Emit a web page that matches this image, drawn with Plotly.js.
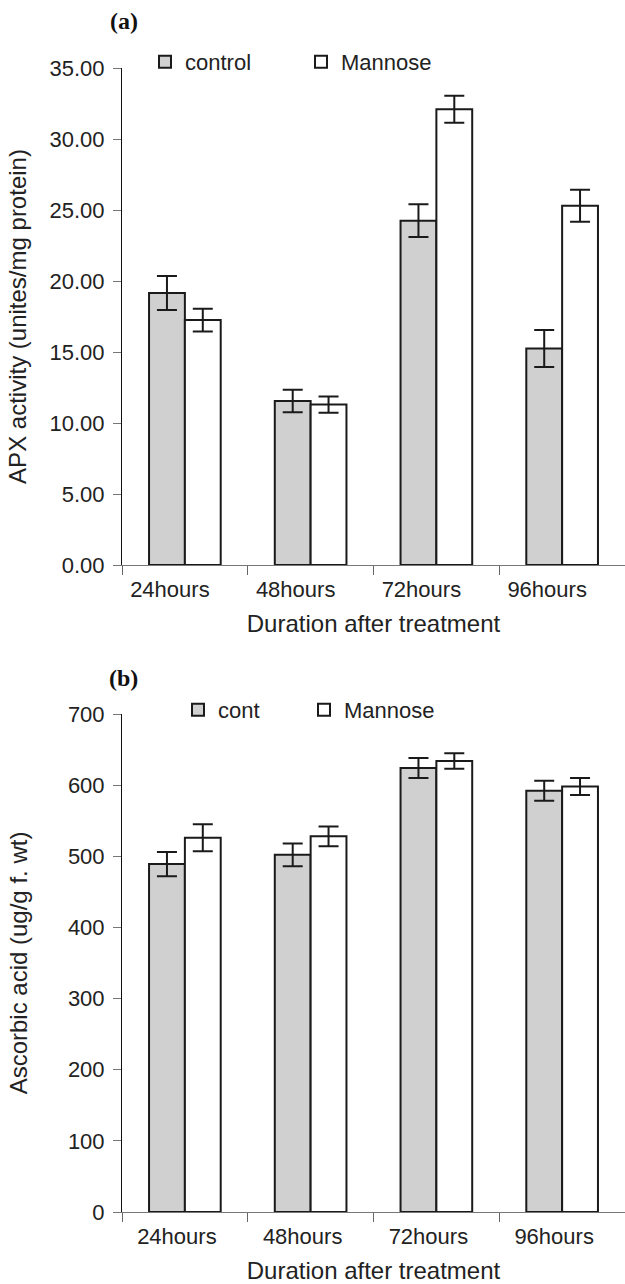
<!DOCTYPE html>
<html>
<head>
<meta charset="utf-8">
<script src="https://cdn.plot.ly/plotly-3.0.1.min.js"></script>
<style>html,body{margin:0;padding:0;background:#fff;}#chart{width:625px;height:1284px;}</style>
</head>
<body>
<div id="chart"></div>
<script>
// Categories
var categories = ["24hours", "48hours", "72hours", "96hours"];

// Panel (a): APX activity
var apxControl = [19.15, 11.55, 24.25, 15.25];
var apxControlErr = [1.2, 0.8, 1.15, 1.3];
var apxMannose = [17.25, 11.3, 32.1, 25.3];
var apxMannoseErr = [0.8, 0.57, 0.95, 1.12];

// Panel (b): Ascorbic acid
var ascControl = [489, 502, 624, 592];
var ascControlErr = [17, 16, 14, 14];
var ascMannose = [526, 528, 634, 598];
var ascMannoseErr = [19, 14, 11, 12];

var outline = {color: "#1a1a1a", width: 2};
var errStyle = function (arr) {
  return {type: "data", array: arr, visible: true, color: "#1a1a1a", thickness: 2, width: 10};
};

var traces = [
  {type: "bar", x: categories, y: apxControl, name: "control", xaxis: "x", yaxis: "y", legend: "legend",
   marker: {color: "#d0d0d0", line: outline}, error_y: errStyle(apxControlErr)},
  {type: "bar", x: categories, y: apxMannose, name: "Mannose", xaxis: "x", yaxis: "y", legend: "legend2",
   marker: {color: "#ffffff", line: outline}, error_y: errStyle(apxMannoseErr)},
  {type: "bar", x: categories, y: ascControl, name: "cont", xaxis: "x2", yaxis: "y2", legend: "legend3",
   marker: {color: "#d0d0d0", line: outline}, error_y: errStyle(ascControlErr)},
  {type: "bar", x: categories, y: ascMannose, name: "Mannose", xaxis: "x2", yaxis: "y2", legend: "legend4",
   marker: {color: "#ffffff", line: outline}, error_y: errStyle(ascMannoseErr)}
];

var H = 1284;
function py(px) { return 1 - px / H; }
function pxX(px) { return (px - 122) / 503; }

var font = {family: "Liberation Sans, Arial, sans-serif", size: 22, color: "#222"};

function xAxis(anchor, shift) {
  return {
    anchor: anchor, type: "category", range: [-0.5, 3.5],
    showline: true, linecolor: "#777", linewidth: 1,
    ticks: "outside", tickson: "boundaries", ticklen: 9, tickcolor: "#666",
    ticklabelshift: shift, ticklabelstandoff: 5,
    showgrid: false, zeroline: false, fixedrange: true,
    tickfont: {size: 22, color: "#222"},
    title: {text: "Duration after treatment", font: {size: 24, color: "#222"}, standoff: 13}
  };
}
function yAxis(anchor, dom, rng, dt, fmt, title, so) {
  return {
    anchor: anchor, domain: dom, range: rng, dtick: dt, tickformat: fmt,
    showline: true, linecolor: "#111", linewidth: 1,
    ticks: "outside", ticklen: 8, tickcolor: "#777", ticklabelstandoff: 4,
    showgrid: false, zeroline: false, fixedrange: true,
    tickfont: {size: 22, color: "#222"},
    title: {text: title, font: {size: 24, color: "#222"}, standoff: so}
  };
}
function legendAt(xpx, ypx) {
  return {orientation: "h", x: pxX(xpx), xanchor: "left", y: py(ypx), yanchor: "middle",
          font: {size: 22, color: "#222"}, bgcolor: "rgba(0,0,0,0)"};
}

var layout = {
  width: 625, height: 1284,
  margin: {l: 122, r: 0, t: 0, b: 0},
  paper_bgcolor: "#fff", plot_bgcolor: "#fff",
  font: font,
  barmode: "group", bargap: 0.43, bargroupgap: 0,
  xaxis: xAxis("y", -15),
  yaxis: yAxis("x", [py(565), py(68)], [0, 35], 5, ".2f", "APX activity (unites/mg protein)", 16),
  xaxis2: xAxis("y2", -8),
  yaxis2: yAxis("x2", [py(1212), py(714)], [0, 700], 100, "d", "Ascorbic acid (ug/g f. wt)", 33),
  legend: legendAt(145, 62),
  legend2: legendAt(301, 62),
  legend3: legendAt(178, 710),
  legend4: legendAt(304, 710),
  annotations: [
    {text: "<b>(a)</b>", xref: "paper", yref: "paper", x: pxX(124), y: py(21), xanchor: "center", yanchor: "middle",
     showarrow: false, font: {family: "Liberation Serif, Times New Roman, serif", size: 24, color: "#111"}},
    {text: "<b>(b)</b>", xref: "paper", yref: "paper", x: pxX(123), y: py(678), xanchor: "center", yanchor: "middle",
     showarrow: false, font: {family: "Liberation Serif, Times New Roman, serif", size: 24, color: "#111"}}
  ],
  showlegend: true
};

Plotly.newPlot("chart", traces, layout, {displayModeBar: false, staticPlot: true});
</script>
</body>
</html>
